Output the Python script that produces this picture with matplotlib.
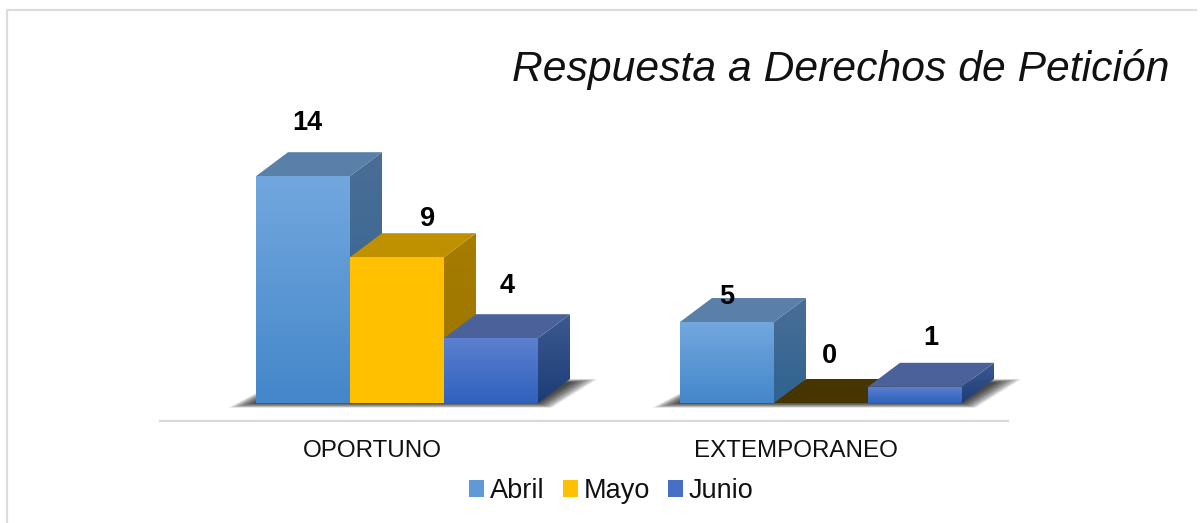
import matplotlib
matplotlib.use("Agg")
import matplotlib.pyplot as plt
from matplotlib.patches import Polygon, Rectangle
from matplotlib.lines import Line2D
import numpy as np

plt.rcParams['font.family'] = ['Liberation Sans', 'DejaVu Sans']

categories = ['OPORTUNO', 'EXTEMPORANEO']
series_names = ['Abril', 'Mayo', 'Junio']
abril = [14, 5]
mayo = [9, 0]
junio = [4, 1]
title_text = 'Respuesta a Derechos de Petición'

# colours for each series: front top, front bottom, side top, side bottom, lid
styles = {
    'Abril': ('#72a7de', '#4487ca', '#4a6e96', '#2f6391', '#5a7fa8'),
    'Mayo': ('#ffc000', '#ffc000', '#a67c00', '#9c7600', '#bf9000'),
    'Junio': ('#5c80cf', '#2f62be', '#3c5a8f', '#1e3d78', '#4a6299'),
}
legend_colors = ['#5f9ad6', '#ffc000', '#4670c6']
# nudges of the value labels from the bar centre, in pixels
label_nudge = [[(4, 53), (31, 38), (16, 52)], [(0, 25), (8, 47), (16, 49)]]

W, H = 1204, 523
fig = plt.figure(figsize=(W / 100, H / 100), dpi=100, facecolor='white')

# page frame
bg = fig.add_axes([0, 0, 1, 1], zorder=0)
bg.set_xlim(0, W)
bg.set_ylim(H, 0)
bg.axis('off')
bg.add_line(Line2D([6.5, 6.5, 1196], [H, 10, 10], color='#dcdcdc', lw=1.6))

# axes box runs from px 160 to 1008 across, one category is 424 px
ax = fig.add_axes([160 / W, (H - 421) / H, 848 / W, 321 / H], zorder=1)
px_y = 16.2
ax.set_xlim(-0.5, 1.5)
ax.set_ylim(-18 / px_y, 303 / px_y)
ax.patch.set_alpha(0)
bar_w = 94 / 424
start = 116 / 424
dx = 32 / 424
dy = 24 / px_y


def grad_face(poly, top, bottom, z):
    # fill a polygon with a vertical gradient by clipping an image to it
    pts = np.array(poly)
    c1 = np.array(matplotlib.colors.to_rgb(top))
    c2 = np.array(matplotlib.colors.to_rgb(bottom))
    t = np.linspace(0, 1, 64)[:, None]
    img = (c1 * (1 - t) + c2 * t)[:, None, :]
    im = ax.imshow(img, extent=(pts[:, 0].min(), pts[:, 0].max(), pts[:, 1].min(), pts[:, 1].max()),
                   aspect='auto', zorder=z, interpolation='bilinear')
    clip = Polygon(pts, transform=ax.transData, fc='none', ec='none')
    ax.add_patch(clip)
    im.set_clip_path(clip)


def shadow(x0, x1):
    # soft dark floor under one group, stacked see-through layers
    for k in np.linspace(1, 0, 26):
        gx = k * 28 / 424
        gy = k * 6 / px_y
        pts = [(x0 - gx, -gy * 0.8), (x1 + gx * 0.5, -gy * 0.8),
               (x1 + dx + gx, dy * 0.85 + gy * 0.6), (x0 + dx - gx * 0.2, dy * 0.85 + gy * 0.6)]
        ax.add_patch(Polygon(pts, fc='black', ec='none', alpha=0.045, zorder=1, clip_on=False))


rows = [abril, mayo, junio]
for c in range(len(categories)):
    shadow(c - start, c - start + 3 * bar_w)
    for s, name in enumerate(series_names):
        v = rows[s][c]
        x0 = c - start + s * bar_w
        x1 = x0 + bar_w
        ft, fb, st, sb, lid = styles[name]
        z = 2 + s
        if v == 0:
            lid = '#473500'
        else:
            grad_face([(x0, 0), (x1, 0), (x1, v), (x0, v)], ft, fb, z + 0.3)
            grad_face([(x1, 0), (x1 + dx, dy), (x1 + dx, v + dy), (x1, v)], st, sb, z + 0.1)
        ax.add_patch(Polygon([(x0, v), (x1, v), (x1 + dx, v + dy), (x0 + dx, v + dy)],
                             fc=lid, ec='none', zorder=z + 0.2))
        nudge = label_nudge[c][s]
        ax.annotate(str(v), xy=((x0 + x1) / 2, v), xytext=nudge, textcoords='offset pixels',
                    ha='center', va='center', fontsize=19.5, fontweight='bold', color='black', zorder=20)

ax.set_xlim(-0.5, 1.5)
ax.set_ylim(-18 / px_y, 303 / px_y)
ax.set_xticks(range(len(categories)))
ax.set_xticklabels(categories, fontsize=17.4, color='#111111')
ax.tick_params(axis='x', length=0, pad=14)
ax.set_yticks([])
for side in ['top', 'left', 'right']:
    ax.spines[side].set_visible(False)
ax.spines['bottom'].set_color('#d9d9d9')
ax.spines['bottom'].set_linewidth(1.6)

fig.text(1170 / W, 1 - 70 / H, title_text, ha='right', va='center', fontsize=30.7, style='italic', color='#111111')

# legend
handles = [Rectangle((0, 0), 1, 1, fc=col) for col in legend_colors]
fig.legend(handles, series_names, loc='center', bbox_to_anchor=(611.5 / W, 1 - 491 / H), ncol=3, frameon=False,
           fontsize=19.5, handlelength=0.55, handleheight=0.55, handletextpad=0.22, columnspacing=0.67,
           labelcolor='#111111')

fig.savefig('out.png', dpi=100)
